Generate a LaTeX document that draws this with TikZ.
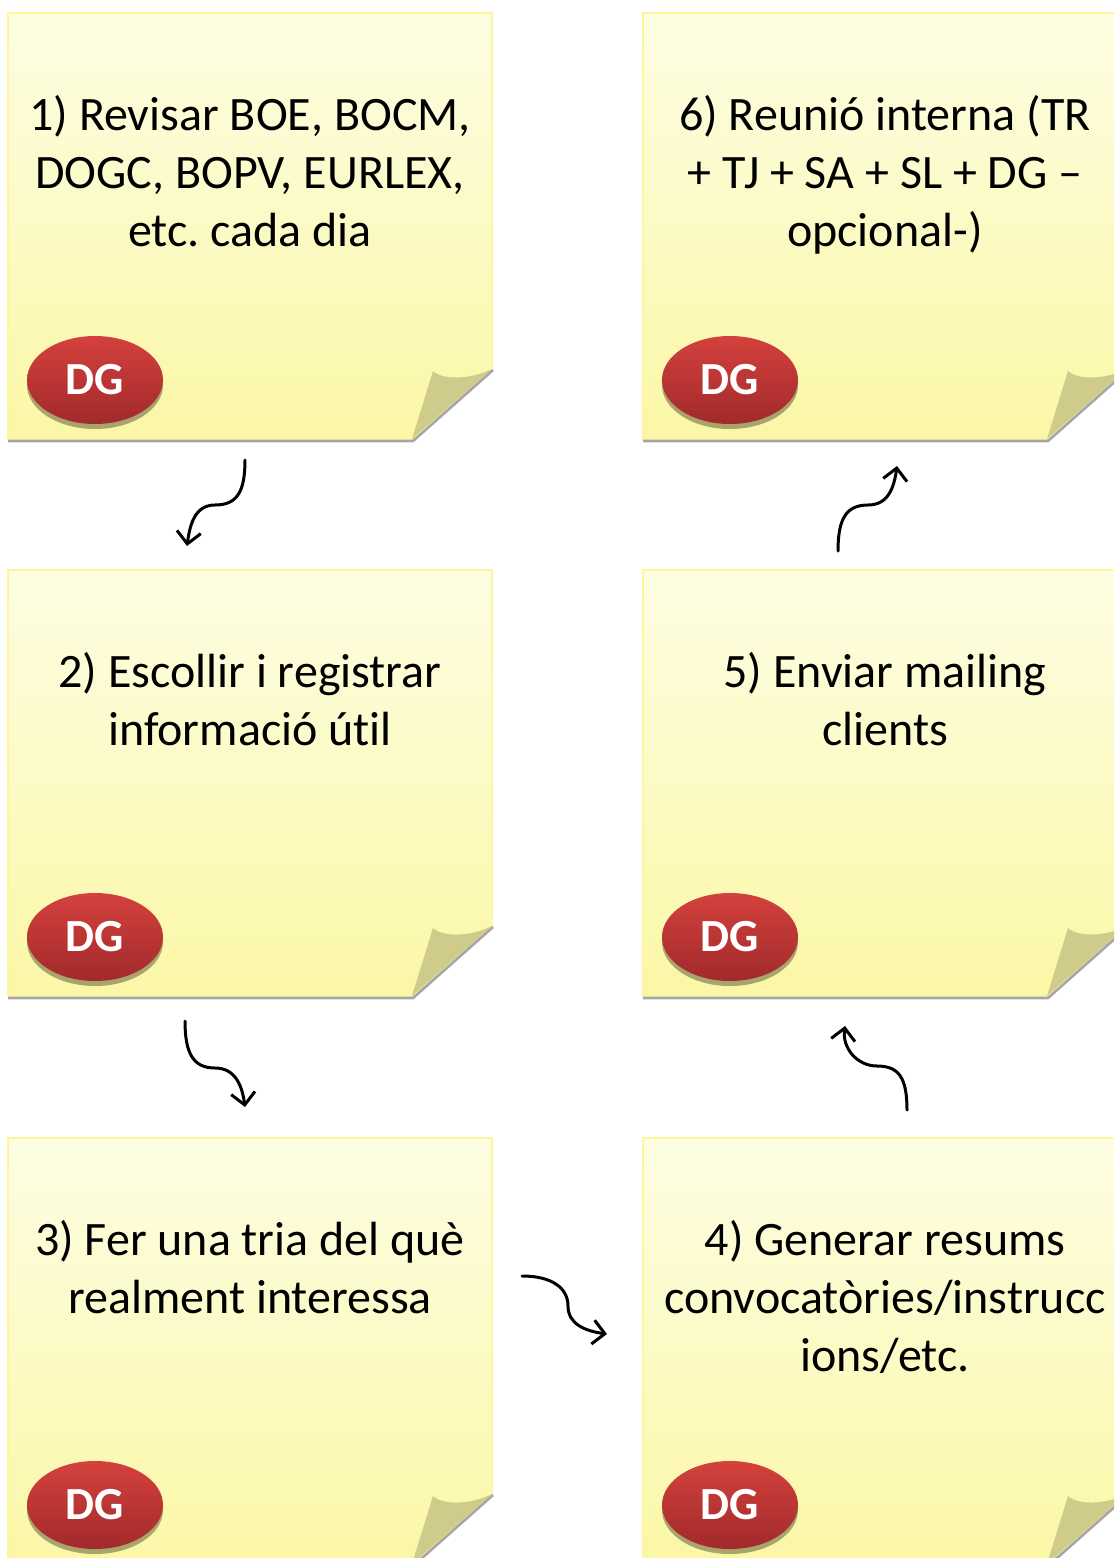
\documentclass[tikz,border=0pt]{standalone}
\usepackage{fontspec}
\setmainfont[Ligatures=NoCommon]{Carlito}
\usepackage{tikz}
\usetikzlibrary{arrows.meta,shapes.geometric,shadows}
\frenchspacing

\definecolor{notetop}{HTML}{FDFDE3}
\definecolor{notebot}{HTML}{FBF7A6}
\definecolor{noteedge}{HTML}{FFF69C}
\definecolor{foldcol}{HTML}{CFCB8A}
\definecolor{dgtop}{HTML}{D4413D}
\definecolor{dgbot}{HTML}{A12A2B}
\definecolor{dgshade}{HTML}{A9A46C}

% one sticky note: name, x, y, text
\newcommand{\stickynote}[4]{%
	\begin{scope}[shift={(#2,#3)}]
		\shade [top color=notetop, bottom color=notebot] (0, 0) -- (484, 0) -- (484, 356) -- (405, 427) -- (0, 427) -- cycle;
		\draw [noteedge, line width=1pt] (0, 427) -- (0, 0) -- (484, 0) -- (484, 356);
		\draw [black!35, line width=1.3pt] (0, 428) -- (405, 428) -- (485, 357);
		\fill [foldcol] (404, 426) -- (425, 358) .. controls (434, 367) and (462, 367) .. (484, 356) -- cycle;
		\node [dg] (#1-dg) at (87, 367) {DG};
		\node [notetext] (#1) at (242, 82) {#4};
	\end{scope}}

\begin{document}
\begin{tikzpicture}[x=0.5pt, y=-0.5pt,
	notetext/.style={anchor=north, align=center, inner sep=0pt, font=\fontsize{24}{29}\selectfont},
	dg/.style={ellipse, minimum width=68pt, minimum height=44pt, inner sep=0pt,
		top color=dgtop, bottom color=dgbot, text=white, font=\bfseries\fontsize{23}{23}\selectfont,
		drop shadow={shadow xshift=0pt, shadow yshift=-2.5pt, fill=dgshade, opacity=1}},
	curvy/.style={line width=1.5pt, line cap=round, -{Straight Barb[length=6pt, width=12pt, line width=1.5pt]}}]
	\useasboundingbox (0, 0) rectangle (1114, 1558);
	\clip (0, 0) rectangle (1114, 1558);

	\stickynote{n1}{8}{13}{1) Revisar BOE, BOCM,\\DOGC, BOPV, EURLEX,\\etc. cada dia}
	\stickynote{n6}{643}{13}{6) Reunió interna (TR\\+ TJ + SA + SL + DG --\\opcional-)}
	\stickynote{n2}{8}{570}{2) Escollir i registrar\\informació útil}
	\stickynote{n5}{643}{570}{5) Enviar mailing\\clients}
	\stickynote{n3}{8}{1138}{3) Fer una tria del què\\realment interessa}
	\stickynote{n4}{643}{1138}{4) Generar resums\\convocatòries/instrucc\\ions/etc.}

	% arrow ends and bends
	\coordinate (a12) at (245, 460);
	\coordinate (m12) at (215, 505);
	\coordinate (b12) at (187, 546);
	\coordinate (a23) at (185, 1021);
	\coordinate (m23) at (215, 1068);
	\coordinate (b23) at (245, 1107);
	\coordinate (a34) at (522, 1276);
	\coordinate (m34) at (568, 1306);
	\coordinate (b34) at (607, 1334);
	\coordinate (a45) at (907, 1110);
	\coordinate (m45) at (877, 1066);
	\coordinate (b45) at (845, 1026);
	\coordinate (a56) at (838, 551);
	\coordinate (m56) at (868, 505);
	\coordinate (b56) at (897, 466);

	\draw [curvy] (a12) .. controls +(0, 32) and +(22, 0) .. (m12) .. controls +(-20, 0) and +(3, -22) .. (b12);
	\draw [curvy] (a23) .. controls +(0, 32) and +(-22, 0) .. (m23) .. controls +(20, 0) and +(-3, -22) .. (b23);
	\draw [curvy] (a34) .. controls +(30, 0) and +(0, -18) .. (m34) .. controls +(0, 18) and +(-22, -3) .. (b34);
	\draw [curvy] (a45) .. controls +(0, -32) and +(22, 0) .. (m45) .. controls +(-20, 0) and +(-3, 22) .. (b45);
	\draw [curvy] (a56) .. controls +(0, -32) and +(-22, 0) .. (m56) .. controls +(20, 0) and +(-3, 22) .. (b56);
\end{tikzpicture}
\end{document}
